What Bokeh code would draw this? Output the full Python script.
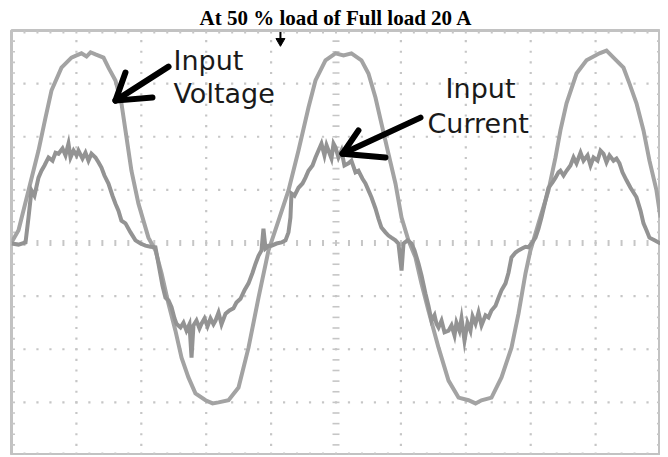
import numpy as np
from bokeh.plotting import figure
from bokeh.models import Range1d
from bokeh.embed import file_html
from bokeh.resources import INLINE
from bokeh.core.properties import value

title_text = "At 50 % load of Full load 20 A"

# time in ms (5 ms/div, 10 div), amplitudes in screen divisions
t_v = [0.00, 0.54, 1.31, 2.08, 2.62, 3.08, 3.85, 4.62, 5.01, 5.39, 5.78, 6.09, 6.47, 7.09, 7.47,
       8.01, 8.47, 8.78, 9.24, 9.78, 10.55, 11.09, 11.56, 12.09, 12.63, 13.10, 13.63, 14.17, 14.95,
       15.49, 15.95, 16.72, 17.49, 18.26, 19.03, 19.80, 20.57, 21.34, 22.11, 22.88, 23.42, 24.19,
       24.96, 25.58, 26.19, 26.96, 27.50, 28.04, 28.50, 29.04, 29.58, 30.05, 30.58, 31.12, 31.58,
       32.12, 32.90, 33.67, 34.44, 35.21, 35.75, 36.21, 36.98, 37.75, 38.52, 39.06, 39.60, 39.98,
       40.60, 41.37, 41.91, 42.29, 42.76, 43.53, 44.30, 45.30, 45.84, 46.38, 47.15, 47.61, 48.15,
       48.69, 49.15, 49.69, 50.00]
v_in = [0.01, 0.24, 0.99, 1.74, 2.36, 2.87, 3.30, 3.49, 3.53, 3.57, 3.51, 3.59, 3.55, 3.49, 3.30,
        3.06, 2.63, 2.12, 1.36, 0.74, 0.10, -0.14, -0.57, -1.14, -1.65, -2.16, -2.53, -2.83, -2.96,
        -3.02, -3.00, -2.96, -2.72, -1.97, -1.03, -0.14, 0.42, 0.99, 1.74, 2.55, 3.06, 3.44,
        3.57, 3.53, 3.57, 3.44, 3.19, 2.74, 2.25, 1.68, 1.12, 0.48, 0.05, -0.27, -0.76,
        -1.27, -1.97, -2.59, -2.91, -2.96, -3.02, -2.96, -2.91, -2.53, -1.97, -1.33, -0.57, -0.14,
        0.37, 0.99, 1.61, 2.12, 2.63, 3.19, 3.44, 3.57, 3.62, 3.49, 3.30, 3.00, 2.63,
        2.12, 1.55, 0.99, 0.48]

t_i = [0.00, 0.54, 1.08, 1.31, 1.54, 1.77, 2.08, 2.31, 2.54, 2.85, 3.16, 3.39, 3.62, 3.93, 4.16,
       4.39, 4.55, 4.78, 5.01, 5.16, 5.47, 5.70, 5.93, 6.16, 6.47, 6.70, 6.93, 7.16, 7.47, 7.78,
       8.01, 8.24, 8.47, 8.78, 9.17, 9.55, 9.94, 10.32, 10.71, 11.09, 11.32, 11.63, 11.86, 12.10,
       12.33, 12.56, 12.71, 13.02, 13.25, 13.48, 13.71, 13.87, 14.02, 14.25, 14.48, 14.64, 14.87,
       15.10, 15.33, 15.56, 15.72, 15.95, 16.18, 16.49, 16.79, 17.10, 17.33, 17.64, 17.95, 18.26,
       18.57, 18.80, 19.03, 19.26, 19.41, 19.57, 19.80, 20.03, 20.42, 20.80, 21.11, 21.34, 21.49,
       21.57, 21.80, 22.11, 22.42, 22.65, 22.88, 23.19, 23.42, 23.65, 23.88, 24.11, 24.27, 24.42,
       24.65, 24.81, 24.96, 25.19, 25.42, 25.65, 25.96, 26.19, 26.50, 26.73, 27.04, 27.27, 27.50,
       27.73, 28.04, 28.27, 28.50, 28.81, 29.04, 29.27, 29.58, 29.81, 30.05, 30.20, 30.51, 30.82,
       31.05, 31.36, 31.59, 31.89, 32.12, 32.36, 32.59, 32.74, 32.90, 33.13, 33.36, 33.67, 33.90,
       34.13, 34.28, 34.51, 34.67, 34.90, 35.13, 35.36, 35.52, 35.75, 35.98, 36.21, 36.52, 36.75,
       36.98, 37.29, 37.52, 37.75, 38.06, 38.29, 38.52, 38.83, 39.06, 39.37, 39.60, 39.83, 40.06,
       40.37, 40.60, 40.83, 41.14, 41.37, 41.68, 41.91, 42.14, 42.29, 42.53, 42.76, 43.06, 43.30,
       43.53, 43.84, 44.07, 44.38, 44.61, 44.84, 45.15, 45.38, 45.61, 45.84, 46.07, 46.38, 46.61,
       46.84, 47.07, 47.38, 47.69, 47.92, 48.15, 48.46, 48.69, 48.92, 49.15, 49.54, 50.00]
i_in = [-0.01, -0.03, 0.01, 0.48, 0.99, 0.89, 1.23, 1.36, 1.46, 1.61, 1.55, 1.70, 1.68, 1.78, 1.65,
        1.87, 1.61, 1.74, 1.65, 1.74, 1.59, 1.70, 1.55, 1.68, 1.61, 1.52, 1.42, 1.27, 1.12, 0.89,
        0.74, 0.61, 0.42, 0.37, 0.20, 0.05, -0.01, -0.05, -0.07, -0.08, -0.39, -0.80, -1.03, -1.08,
        -1.21, -1.42, -1.52, -1.59, -1.50, -1.65, -1.53, -2.16, -1.55, -1.46, -1.61, -1.52, -1.42,
        -1.57, -1.42, -1.53, -1.46, -1.31, -1.53, -1.33, -1.27, -1.23, -1.12, -1.05, -0.89, -0.76,
        -0.56, -0.39, -0.24, -0.14, 0.27, -0.10, -0.05, -0.05, -0.01, 0.01, 0.05, 0.20, 0.48,
        0.93, 0.89, 1.04, 1.12, 1.23, 1.36, 1.46, 1.61, 1.74, 1.87, 1.65, 1.84, 1.74,
        1.59, 1.87, 1.80, 1.61, 1.74, 1.46, 1.50, 1.55, 1.33, 1.36, 1.21, 1.12, 0.99,
        0.86, 0.65, 0.46, 0.29, 0.20, 0.14, 0.10, 0.05, -0.01, -0.52, -0.01, 0.05, -0.01,
        -0.14, -0.39, -0.61, -0.95, -1.18, -1.46, -1.36, -1.52, -1.59, -1.46, -1.68, -1.65, -1.55,
        -1.74, -1.50, -1.65, -1.42, -1.84, -1.50, -1.65, -1.38, -1.52, -1.31, -1.55, -1.36, -1.40,
        -1.27, -1.18, -1.03, -0.89, -0.76, -0.56, -0.27, -0.18, -0.14, -0.10, -0.07, -0.08, -0.01,
        0.10, 0.27, 0.48, 0.80, 1.04, 1.14, 1.23, 1.33, 1.36, 1.27, 1.36, 1.46, 1.61,
        1.50, 1.70, 1.55, 1.65, 1.46, 1.61, 1.55, 1.74, 1.68, 1.52, 1.65, 1.55, 1.59,
        1.50, 1.33, 1.18, 1.04, 0.95, 0.86, 0.61, 0.37, 0.24, 0.10, 0.05, -0.01]

x_div = 5.0   # ms per division
n_xdiv = 10
n_ydiv = 8

p = figure(frame_width=649, frame_height=425, output_backend="svg", toolbar_location=None,
           x_range=Range1d(0, x_div * n_xdiv), y_range=Range1d(-n_ydiv / 2, n_ydiv / 2),
           x_axis_location=None, y_axis_location=None, title=title_text,
           min_border_left=11, min_border_right=0, min_border_bottom=0, min_border_top=30)
p.grid.visible = False
p.background_fill_color = "white"
p.border_fill_color = "white"
p.outline_line_color = "#c2c2c2"
p.outline_line_width = 3
p.title.text_font = "Liberation Serif"
p.title.text_font_size = "21px"
p.title.text_font_style = "bold"
p.title.align = "center"
p.title.text_color = "black"
p.title.standoff = 2

grid_col = "#c6c6c6"
# dotted graticule
xs_minor = np.arange(1, x_div * n_xdiv) * 1.0
ys_minor = np.round(np.arange(-n_ydiv / 2 + 0.2, n_ydiv / 2, 0.2), 3)
dx, dy = [], []
for yl in [-3, -2, -1, 1, 2, 3]:
    dx += list(xs_minor); dy += [yl] * len(xs_minor)
for xl in [5, 10, 15, 20, 30, 35, 40, 45]:
    dx += [xl] * len(ys_minor); dy += list(ys_minor)
p.scatter(dx, dy, marker="square", size=2.2, color=grid_col, line_color=None)

# tick marks on center lines and borders
tx = list(xs_minor) * 3
ty = [0] * len(xs_minor) + [-4] * len(xs_minor) + [4] * len(xs_minor)
p.scatter(tx, ty, marker="dash", size=6, angle=np.pi / 2, line_color=grid_col, line_width=2)
hx = [25] * len(ys_minor) + [0] * len(ys_minor) + [50] * len(ys_minor)
hy = list(ys_minor) * 3
p.scatter(hx, hy, marker="dash", size=7, line_color=grid_col, line_width=1.6)

# traces
p.line(t_v, v_in, line_color="#a3a3a3", line_width=4, line_join="miter")
p.line(t_i, i_in, line_color="#939393", line_width=4, line_join="miter")

# trigger marker
p.segment([20.72], [3.97], [20.72], [3.82], line_color="black", line_width=2)
p.scatter([20.72], [3.80], marker="inverted_triangle", size=9, color="black")

# annotations
p.text(x=[12.48, 12.48, 33.44, 32.05], y=[3.435, 2.814, 2.908, 2.249],
       text=["Input", "Voltage", "Input", "Current"],
       text_font=value("DejaVu Sans"), text_font_size="27px", text_color="#1a1a1a",
       text_baseline="alphabetic", text_align="left")

p.multi_line(xs=[[12.10, 8.01], [8.78, 8.01, 10.86], [31.51, 25.50], [26.73, 25.50, 28.81]],
             ys=[[3.32, 2.68], [3.21, 2.68, 2.74], [2.36, 1.68], [2.12, 1.68, 1.61]],
             line_color="black", line_width=6, line_cap="round", line_join="round")

open("out.html", "w").write(file_html(p, INLINE))
